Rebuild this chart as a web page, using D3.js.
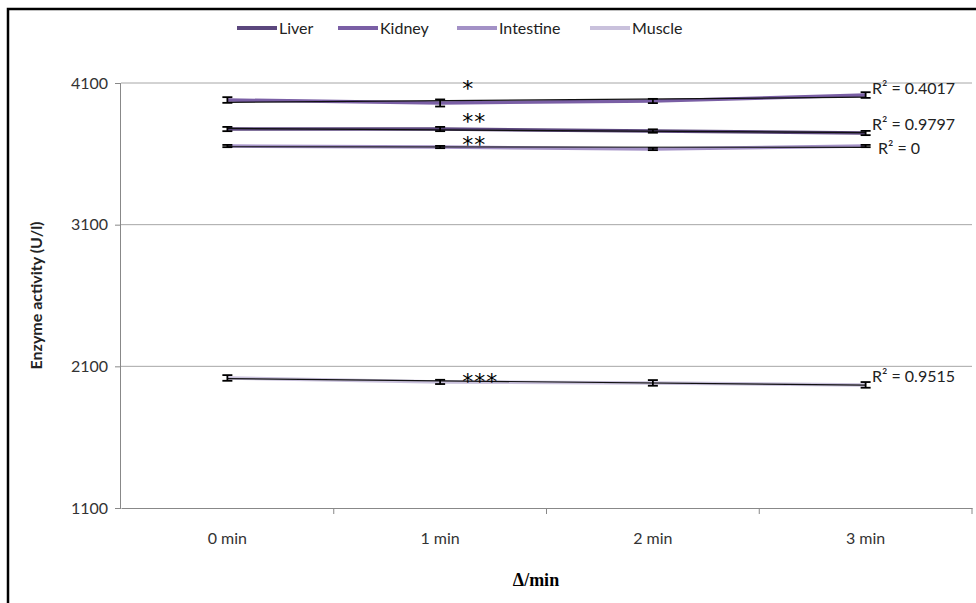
<!DOCTYPE html>
<html>
<head>
<meta charset="utf-8">
<script src="https://cdn.jsdelivr.net/npm/d3@7"></script>
<style>
  body { margin: 0; background: #fff; }
  svg { display: block; }
</style>
</head>
<body>
<div id="chart"></div>
<script>
const width = 976;
const height = 603;
const margin = ({top: 83, right: 4, bottom: 95, left: 121});

// data
const categories = ["0 min", "1 min", "2 min", "3 min"];
const seriesNames = ["Liver", "Kidney", "Intestine", "Muscle"];
const liver = [3775, 3775, 3761, 3747];
const kidney = [3980, 3959, 3973, 4015];
const intestine = [3655, 3648, 3634, 3655];
const muscle = [2018, 1990, 1983, 1969];
const liverErr = [15, 15, 12, 15];
const kidneyErr = [20, 25, 15, 20];
const intestineErr = [8, 8, 8, 8];
const muscleErr = [20, 15, 20, 20];
const r2Labels = ["0.9797", "0.4017", "0", "0.9515"];
const stars = ["**", "*", "**", "***"];
const yTicks = [1100, 2100, 3100, 4100];
const colors = ["#5b477d", "#7a5fa5", "#a391c6", "#c9c1dc"];

const series = seriesNames.map((name, i) => ({
  name,
  values: [liver, kidney, intestine, muscle][i],
  err: [liverErr, kidneyErr, intestineErr, muscleErr][i],
  r2: r2Labels[i],
  star: stars[i],
  color: colors[i]
}));

const svg = d3.select("#chart").append("svg")
  .attr("width", width)
  .attr("height", height)
  .style("font-family", "Lato, 'Open Sans', sans-serif");

const x = d3.scaleBand()
  .domain(categories)
  .range([margin.left, width - margin.right])
  .padding(0);

const y = d3.scaleLinear()
  .domain([1100, 4100])
  .range([height - margin.bottom, margin.top]);

const cx = c => x(c) + x.bandwidth() / 2;

// outer frame
svg.append("rect")
  .attr("x", 8).attr("y", 9)
  .attr("width", width).attr("height", height)
  .attr("fill", "none")
  .attr("stroke", "#000")
  .attr("stroke-width", 2.5);

// gridlines
svg.append("g")
  .selectAll("line")
  .data(yTicks.slice(1))
  .join("line")
    .attr("x1", margin.left).attr("x2", width - margin.right)
    .attr("y1", d => y(d)).attr("y2", d => y(d))
    .attr("stroke", "#a6a6a6");

// y axis
svg.append("g")
  .attr("transform", `translate(${margin.left},0)`)
  .call(d3.axisLeft(y).tickValues(yTicks).tickFormat(d3.format("d")).tickSize(6).tickPadding(7))
  .call(g => g.select(".domain").attr("stroke", "#888").attr("d", `M-0.5,${y(4100)}V${y(1100)}`))
  .call(g => g.selectAll(".tick line").attr("stroke", "#888"))
  .call(g => g.selectAll(".tick text").attr("font-size", 16).attr("fill", "#333").attr("font-family", "Lato, sans-serif"));

// x axis
svg.append("g")
  .attr("transform", `translate(0,${y(1100)})`)
  .call(d3.axisBottom(x).tickSize(0).tickPadding(25))
  .call(g => g.select(".domain").attr("stroke", "#888"))
  .call(g => g.selectAll(".tick text").attr("font-size", 16).attr("fill", "#333").attr("font-family", "Lato, sans-serif"));

svg.append("g")
  .selectAll("line")
  .data(categories.map(c => x(c) + x.bandwidth()))
  .join("line")
    .attr("x1", d => d).attr("x2", d => d)
    .attr("y1", y(1100)).attr("y2", y(1100) + 6)
    .attr("stroke", "#888");

// axis titles
svg.append("text")
  .attr("transform", `translate(42,${(y(1100) + y(4100)) / 2}) rotate(-90)`)
  .attr("text-anchor", "middle")
  .attr("font-size", 16)
  .attr("font-weight", "bold")
  .attr("fill", "#222")
  .text("Enzyme activity (U/l)");

svg.append("text")
  .attr("x", 536).attr("y", 586)
  .attr("text-anchor", "middle")
  .attr("font-family", "'Liberation Serif', serif")
  .attr("font-size", 18)
  .attr("font-weight", "bold")
  .text("Δ/min");

// series lines
const line = d3.line()
  .x((d, i) => cx(categories[i]))
  .y(d => y(d));

svg.append("g")
  .selectAll("path")
  .data(series)
  .join("path")
    .attr("d", d => line(d.values))
    .attr("fill", "none")
    .attr("stroke", d => d.color)
    .attr("stroke-width", 3.5);

// linear trendlines
function fit(vals) {
  const xs = vals.map((v, i) => i + 1);
  const mx = d3.mean(xs), my = d3.mean(vals);
  const b = d3.sum(xs, (xv, i) => (xv - mx) * (vals[i] - my)) / d3.sum(xs, xv => (xv - mx) ** 2);
  const a = my - b * mx;
  return [a + b * 1, a + b * 4];
}

svg.append("g")
  .selectAll("line")
  .data(series)
  .join("line")
    .attr("x1", cx(categories[0]))
    .attr("x2", cx(categories[3]))
    .attr("y1", d => y(fit(d.values)[0]))
    .attr("y2", d => y(fit(d.values)[1]))
    .attr("stroke", "#111")
    .attr("stroke-width", 1.2);

// error bars
const eb = svg.append("g").attr("stroke", "#000").attr("stroke-width", 1.8);
series.forEach(s => {
  s.values.forEach((v, i) => {
    const px = cx(categories[i]);
    const g = eb.append("g");
    g.append("line").attr("x1", px).attr("x2", px).attr("y1", y(v - s.err[i])).attr("y2", y(v + s.err[i]));
    g.append("line").attr("x1", px - 5).attr("x2", px + 5).attr("y1", y(v - s.err[i])).attr("y2", y(v - s.err[i]));
    g.append("line").attr("x1", px - 5).attr("x2", px + 5).attr("y1", y(v + s.err[i])).attr("y2", y(v + s.err[i]));
  });
});

// significance stars (baseline offset from each line at 1 min, in pixels)
const starDy = [0, -7, 5, 7];
svg.append("g")
  .selectAll("text")
  .data(series)
  .join("text")
    .attr("x", cx(categories[1]) + 22)
    .attr("y", (d, i) => y(d.values[1]) + starDy[i])
    .attr("font-family", "'DejaVu Sans', sans-serif")
    .attr("font-size", 22)
    .attr("letter-spacing", 1)
    .text(d => d.star);

// R² labels
svg.append("g")
  .selectAll("text")
  .data(series)
  .join("text")
    .attr("x", d => d.r2 === "0" ? 878 : 872)
    .attr("y", d => y(fit(d.values)[1]) - (d.r2 === "0" ? -7 : 3))
    .attr("font-size", 16)
    .attr("fill", "#222")
    .text(d => `R² = ${d.r2}`);

// legend
const legendX = [237, 338, 457, 590];
const legend = svg.append("g")
  .selectAll("g")
  .data(series)
  .join("g")
    .attr("transform", (d, i) => `translate(${legendX[i]},28)`);

legend.append("line")
  .attr("x1", 0).attr("x2", 40)
  .attr("stroke", d => d.color)
  .attr("stroke-width", 4);

legend.append("text")
  .attr("x", 42).attr("dy", "0.35em")
  .attr("font-size", 16)
  .attr("fill", "#222")
  .text(d => d.name);
</script>
</body>
</html>
